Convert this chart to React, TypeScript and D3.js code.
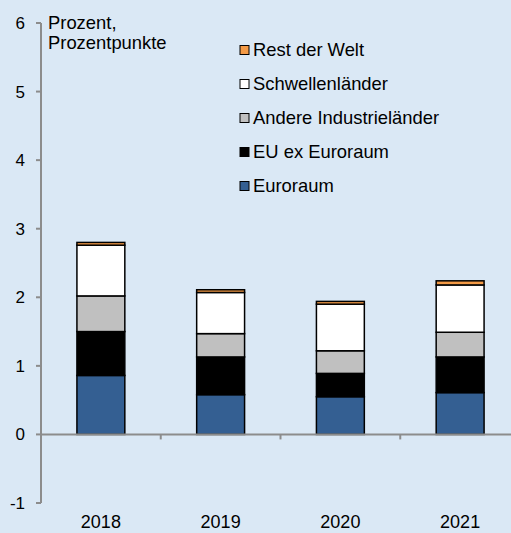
import React from "react";
import * as d3 from "d3";

const years = ["2018", "2019", "2020", "2021"];
const seriesNames = ["Euroraum", "EU ex Euroraum", "Andere Industrieländer", "Schwellenländer", "Rest der Welt"];
const euroraum = [0.86, 0.58, 0.55, 0.61];
const euExEuroraum = [0.64, 0.55, 0.34, 0.52];
const andereIndustrielaender = [0.52, 0.34, 0.33, 0.36];
const schwellenlaender = [0.74, 0.6, 0.68, 0.69];
const restDerWelt = [0.04, 0.04, 0.04, 0.06];
const colors = ["#345f92", "#000000", "#c0c0c0", "#ffffff", "#f39a46"];
const yTicks = [-1, 0, 1, 2, 3, 4, 5, 6];

const W = 511;
const H = 533;
const FONT = "'Liberation Sans', Arial, sans-serif";

export default function App() {
  const values = [euroraum, euExEuroraum, andereIndustrielaender, schwellenlaender, restDerWelt];
  const rows = years.map((y, i) => {
    const r: any = { year: y };
    seriesNames.forEach((s, k) => (r[s] = values[k][i]));
    return r;
  });
  const stacked = d3.stack().keys(seriesNames)(rows);
  const x = d3.scaleBand().domain(years).range([41, 520]).paddingInner(0).paddingOuter(0);
  const y = d3.scaleLinear().domain([-1, 6]).range([503, 23]);
  const barW = x.bandwidth() * 0.4;
  const axisColor = "#8c8c8c";
  const legendOrder = [...seriesNames].reverse();
  return (
    <svg width={W} height={H} style={{ position: "absolute", left: 0, top: 0, fontFamily: FONT }}>
      <rect x={0} y={0} width={W} height={H} fill="#dae8f5" />
      {stacked.map((layer, k) => (
        <g key={layer.key}>
          {layer.map((d, i) => (
            <rect
              key={i}
              x={(x(years[i]) as number) + x.bandwidth() / 2 - barW / 2}
              y={y(d[1])}
              width={barW}
              height={y(d[0]) - y(d[1])}
              fill={colors[k]}
              stroke="#000"
              strokeWidth={1.5}
            />
          ))}
        </g>
      ))}
      <line x1={41} x2={41} y1={y(6)} y2={y(-1)} stroke={axisColor} strokeWidth={2} />
      {yTicks.map((t) => (
        <g key={t}>
          <line x1={36} x2={41} y1={y(t)} y2={y(t)} stroke={axisColor} strokeWidth={2} />
          <text x={25} y={y(t)} dy="0.35em" textAnchor="end" fontSize={17} fill="#000">
            {t}
          </text>
        </g>
      ))}
      <line x1={41} x2={W} y1={y(0)} y2={y(0)} stroke={axisColor} strokeWidth={2} />
      {years.slice(1).map((yr) => (
        <line key={yr} x1={x(yr) as number} x2={x(yr) as number} y1={y(0)} y2={y(0) + 5} stroke={axisColor} strokeWidth={2} />
      ))}
      {years.map((yr) => (
        <text key={yr} x={(x(yr) as number) + x.bandwidth() / 2} y={528} textAnchor="middle" fontSize={18} fill="#000">
          {yr}
        </text>
      ))}
      <text x={48} y={29} fontSize={18.4} fill="#000">Prozent,</text>
      <text x={48} y={49} fontSize={18.4} fill="#000">Prozentpunkte</text>
      {legendOrder.map((s, i) => {
        const k = seriesNames.indexOf(s);
        const cy = 50 + i * 34;
        return (
          <g key={s}>
            <rect x={240} y={cy - 4.5} width={9} height={9} fill={colors[k]} stroke="#000" strokeWidth={1} />
            <text x={253} y={cy} dy="0.35em" fontSize={18.4} fill="#000">
              {s}
            </text>
          </g>
        );
      })}
    </svg>
  );
}
